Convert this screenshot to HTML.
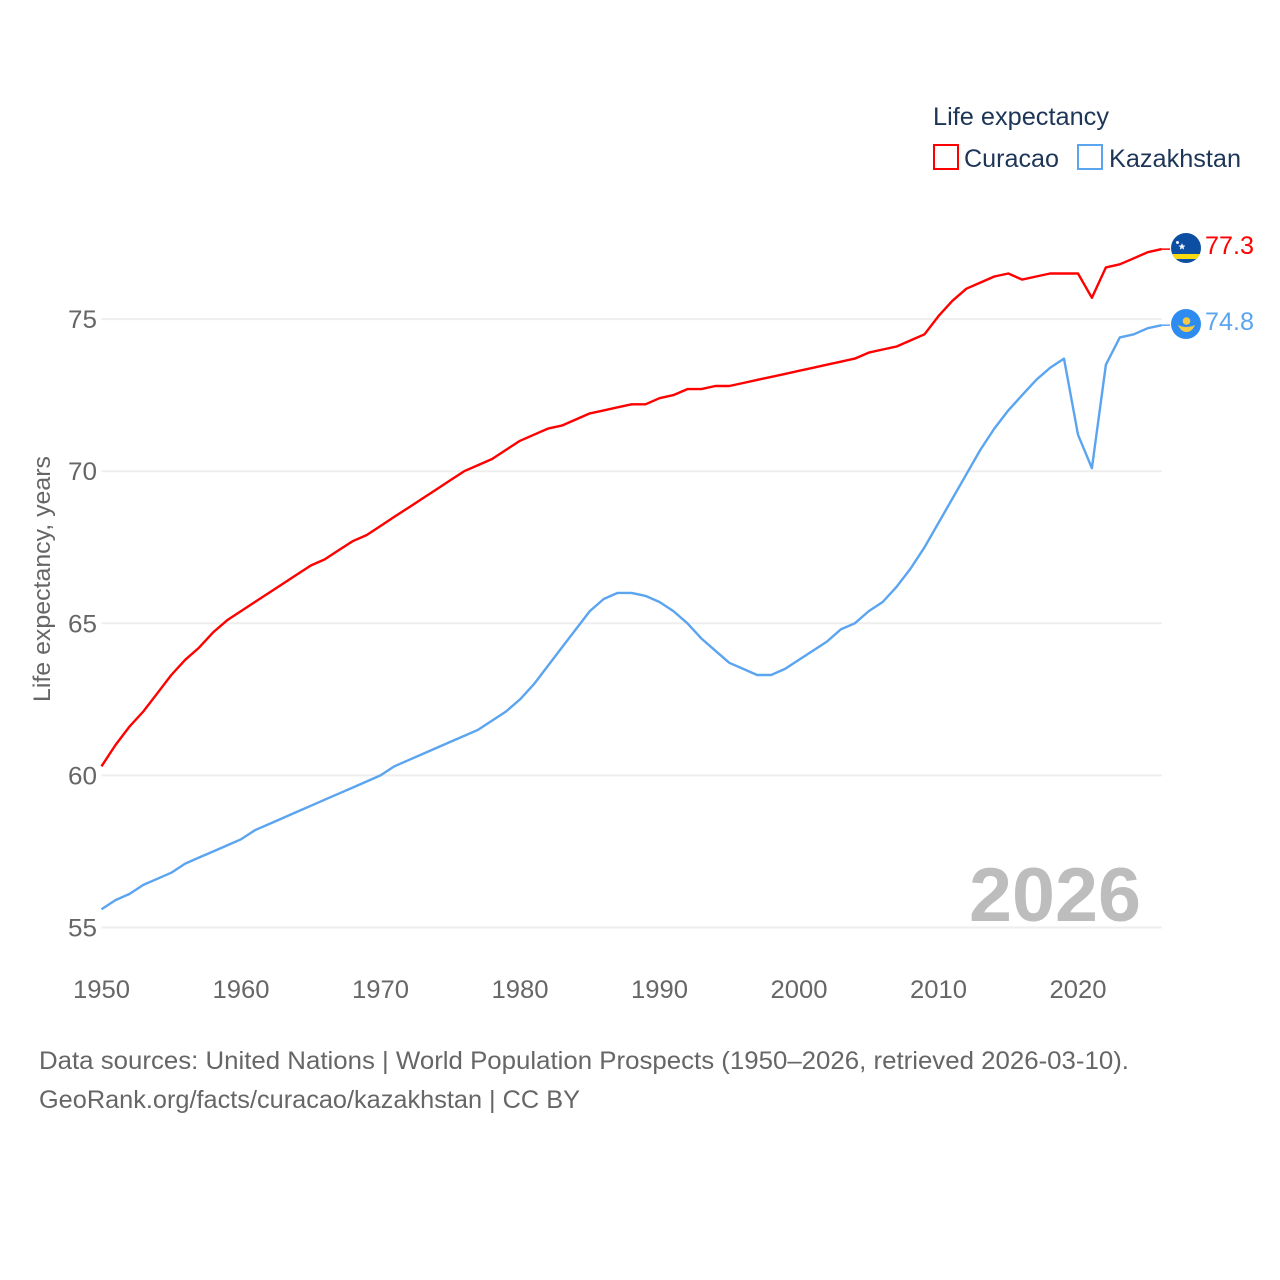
<!DOCTYPE html>
<html lang="en">
<head>
<meta charset="utf-8">
<title>Life expectancy: Curacao and Kazakhstan</title>
<style>
html,body{margin:0;padding:0;background:#fff;}
svg{display:block;}
text{font-family:"Liberation Sans",sans-serif;}
</style>
</head>
<body>
<svg id="chart" xmlns="http://www.w3.org/2000/svg" width="1280" height="1280" viewBox="0 0 1280 1280">
  <rect x="0" y="0" width="1280" height="1280" fill="#fff"/>
  <g id="grid"></g>
  <g id="yticks"></g>
  <g id="xticks"></g>
  <text transform="translate(50,702) rotate(-90)" font-size="24" fill="#666" textLength="246" lengthAdjust="spacingAndGlyphs">Life expectancy, years</text>
  <text x="969" y="921" font-size="76" font-weight="bold" fill="#bdbdbd" textLength="172" lengthAdjust="spacingAndGlyphs">2026</text>
  <g id="series"></g>

  <g>
    <text x="933" y="125" font-size="25" fill="#1d3557" textLength="176" lengthAdjust="spacingAndGlyphs">Life expectancy</text>
    <rect x="934" y="145" width="24" height="24" fill="#fff" stroke="#ff0000" stroke-width="2"/>
    <text x="964" y="167" font-size="25" fill="#1d3557" textLength="95" lengthAdjust="spacingAndGlyphs">Curacao</text>
    <rect x="1078" y="145" width="24" height="24" fill="#fff" stroke="#5ba4f0" stroke-width="2"/>
    <text x="1109" y="167" font-size="25" fill="#1d3557" textLength="132" lengthAdjust="spacingAndGlyphs">Kazakhstan</text>
  </g>

  <g>
    <clipPath id="curacao-clip"><circle cx="1186" cy="248" r="15"/></clipPath>
    <circle cx="1186" cy="248" r="15" fill="#0b4ea2"/>
    <rect x="1170" y="254" width="32" height="5" fill="#f9d90f" clip-path="url(#curacao-clip)"/>
    <polygon points="1182,243 1183,245.4 1185.5,245.6 1183.6,247.2 1184.2,249.6 1182,248.3 1179.8,249.6 1180.4,247.2 1178.5,245.6 1181,245.4" fill="#eef3fa"/>
    <circle cx="1177.5" cy="242.5" r="1.5" fill="#eef3fa"/>
  </g>
  <g>
    <circle cx="1186" cy="324" r="15" fill="#2e8bf0"/>
    <circle cx="1186.500" cy="321" r="3.8" fill="#f6c945"/>
    <path d="M1178,325 Q1186,329 1195,325 Q1192,332 1186.500,332 Q1181,332 1178,325 Z" fill="#f6c945"/>
  </g>

  <text x="1205" y="254" font-size="25" fill="#ff0000" textLength="49" lengthAdjust="spacingAndGlyphs">77.3</text>
  <text x="1205" y="330" font-size="25" fill="#5ba4f0" textLength="49" lengthAdjust="spacingAndGlyphs">74.8</text>

  <text x="39" y="1069" font-size="25" fill="#666" textLength="1090" lengthAdjust="spacingAndGlyphs">Data sources: United Nations | World Population Prospects (1950–2026, retrieved 2026-03-10).</text>
  <text x="39" y="1108" font-size="25" fill="#666" textLength="541" lengthAdjust="spacingAndGlyphs">GeoRank.org/facts/curacao/kazakhstan | CC BY</text>
</svg>

<script>
const years = [1950,1951,1952,1953,1954,1955,1956,1957,1958,1959,1960,1961,1962,1963,1964,1965,1966,1967,1968,1969,1970,1971,1972,1973,1974,1975,1976,1977,1978,1979,1980,1981,1982,1983,1984,1985,1986,1987,1988,1989,1990,1991,1992,1993,1994,1995,1996,1997,1998,1999,2000,2001,2002,2003,2004,2005,2006,2007,2008,2009,2010,2011,2012,2013,2014,2015,2016,2017,2018,2019,2020,2021,2022,2023,2024,2025,2026];
const curacao = [60.3,61.0,61.6,62.1,62.7,63.3,63.8,64.2,64.7,65.1,65.4,65.7,66.0,66.3,66.6,66.9,67.1,67.4,67.7,67.9,68.2,68.5,68.8,69.1,69.4,69.7,70.0,70.2,70.4,70.7,71.0,71.2,71.4,71.5,71.7,71.9,72.0,72.1,72.2,72.2,72.4,72.5,72.7,72.7,72.8,72.8,72.9,73.0,73.1,73.2,73.3,73.4,73.5,73.6,73.7,73.9,74.0,74.1,74.3,74.5,75.1,75.6,76.0,76.2,76.4,76.5,76.3,76.4,76.5,76.5,76.5,75.7,76.7,76.8,77.0,77.2,77.3];
const kazakhstan = [55.6,55.9,56.1,56.4,56.6,56.8,57.1,57.3,57.5,57.7,57.9,58.2,58.4,58.6,58.8,59.0,59.2,59.4,59.6,59.8,60.0,60.3,60.5,60.7,60.9,61.1,61.3,61.5,61.8,62.1,62.5,63.0,63.6,64.2,64.8,65.4,65.8,66.0,66.0,65.9,65.7,65.4,65.0,64.5,64.1,63.7,63.5,63.3,63.3,63.5,63.8,64.1,64.4,64.8,65.0,65.4,65.7,66.2,66.8,67.5,68.3,69.1,69.9,70.7,71.4,72.0,72.5,73.0,73.4,73.7,71.2,70.1,73.5,74.4,74.5,74.7,74.8];
const yTickLabels = [55,60,65,70,75];
const xTickLabels = [1950,1960,1970,1980,1990,2000,2010,2020];

const NS = 'http://www.w3.org/2000/svg';
const xScale = function (year) { return 101.5 + (year - 1950) * 13.95; };
const yScale = function (value) { return 927.5 - (value - 55) * 30.42; };

function make(tag, parent) {
  const el = document.createElementNS(NS, tag);
  parent.appendChild(el);
  return el;
}

const grid = document.getElementById('grid');
const yticks = document.getElementById('yticks');
yTickLabels.forEach(function (v) {
  const line = make('line', grid);
  
  
  line.setAttribute('x1', xScale(1950));
  line.setAttribute('x2', xScale(2026));
  line.setAttribute('y1', yScale(v));
  line.setAttribute('y2', yScale(v));
  line.setAttribute('stroke', '#eeeeee');
  line.setAttribute('stroke-width', '2');

  const label = make('text', yticks);
  
  
  label.setAttribute('x', 97);
  label.setAttribute('y', yScale(v) + 9);
  label.setAttribute('text-anchor', 'end');
  label.setAttribute('font-size', '25');
  label.setAttribute('fill', '#666');
  label.setAttribute('textLength', '29');
  label.setAttribute('lengthAdjust', 'spacingAndGlyphs');
  label.textContent = v;
});

const xticks = document.getElementById('xticks');
xTickLabels.forEach(function (y) {
  const label = make('text', xticks);
  
  
  label.setAttribute('x', xScale(y));
  label.setAttribute('y', 998);
  label.setAttribute('text-anchor', 'middle');
  label.setAttribute('font-size', '25');
  label.setAttribute('fill', '#666');
  label.setAttribute('textLength', '57');
  label.setAttribute('lengthAdjust', 'spacingAndGlyphs');
  label.textContent = y;
});

const seriesGroup = document.getElementById('series');
function drawSeries(values, color, name) {
  const pts = values.map(function (v, i) {
    return xScale(years[i]).toFixed(1) + ',' + yScale(v).toFixed(1);
  }).join(' ');
  const line = make('polyline', seriesGroup);
  
  
  line.setAttribute('points', pts);
  line.setAttribute('fill', 'none');
  line.setAttribute('stroke', color);
  line.setAttribute('stroke-width', '2.4');
  line.setAttribute('stroke-linejoin', 'round');

  const last = values[values.length - 1];
  const connector = make('line', seriesGroup);
  
  
  connector.setAttribute('x1', xScale(years[years.length - 1]));
  connector.setAttribute('x2', 1170);
  connector.setAttribute('y1', yScale(last));
  connector.setAttribute('y2', yScale(last));
  connector.setAttribute('stroke', color);
  connector.setAttribute('stroke-width', '1.5');
}
drawSeries(curacao, '#ff0000', 'curacao-line');
drawSeries(kazakhstan, '#5ba4f0', 'kazakhstan-line');
</script>
</body>
</html>
